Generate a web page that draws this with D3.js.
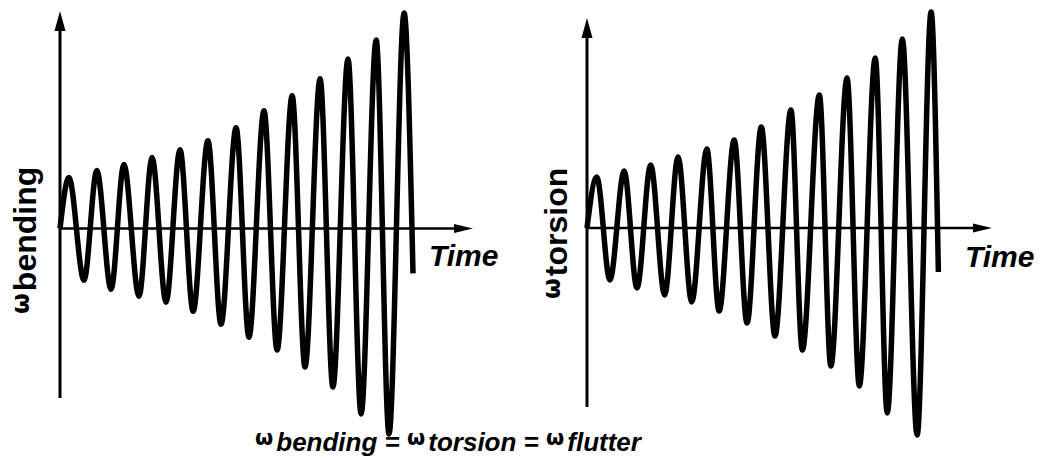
<!DOCTYPE html>
<html>
<head>
<meta charset="utf-8">
<script src="https://cdn.jsdelivr.net/npm/d3@7"></script>
<style>
  html, body { margin: 0; padding: 0; background: #fff; }
  svg { display: block; }
  text { font-family: "Liberation Sans", Arial, sans-serif; fill: #000; }
  .omega { font-family: "DejaVu Sans", sans-serif; font-style: normal; }
</style>
</head>
<body>
<svg id="chart" width="1048" height="458"></svg>
<script>
// ---- data (time in cycles, amplitude in arbitrary units) ----
const bendingTime = [0, 0.32, 0.86, 1.32, 1.83, 2.29, 2.83, 3.30, 3.80, 4.30, 4.77, 5.30, 5.77,
  6.31, 6.77, 7.31, 7.78, 8.32, 8.78, 9.32, 9.78, 10.32, 10.79, 11.33, 11.79, 12.33, 12.65];
const bendingValue = [0, 51, -52, 58, -61, 64, -68, 71, -74, 79, -83, 88, -96,
  101, -109, 118, -122, 133, -139, 150, -159, 170, -186, 189, -206, 216, -45];

const torsionTime = [0, 0.35, 0.82, 1.33, 1.79, 2.28, 2.78, 3.26, 3.75, 4.29, 4.73, 5.27, 5.73,
  6.24, 6.73, 7.30, 7.71, 8.32, 8.73, 9.31, 9.75, 10.32, 10.75, 11.29, 11.82, 12.32, 12.58];
const torsionValue = [0, 51, -52, 57, -60, 63, -67, 71, -74, 79, -83, 88, -95,
  101, -108, 118, -122, 133, -138, 150, -158, 170, -185, 189, -207, 216, -44];

const panels = [
  { name: "bending", time: bendingTime, value: bendingValue,
    xDomain: [0, 14.8], yDomain: [-170, 218] },
  { name: "torsion", time: torsionTime, value: torsionValue,
    xDomain: [0, 14.5], yDomain: [-179, 210] }
];
const axisLabel = "Time";
const omega = "\u03C9";
const formulaParts = ["bending", " = ", "torsion", " = ", "flutter"];

// ---- layout ----
const svg = d3.select("#chart");
const layout = [
  { x0: 60, xScaleWidth: 413, yTop: 11, yBottom: 398, labelX: 36, labelY: 314, timeX: 429, timeY: 266 },
  { x0: 587, xScaleWidth: 405, yTop: 18, yBottom: 407, labelX: 567, labelY: 299, timeX: 965, timeY: 267 }
];

panels.forEach((p, i) => {
  const L = layout[i];
  const x = d3.scaleLinear().domain(p.xDomain).range([L.x0, L.x0 + L.xScaleWidth]);
  const y = d3.scaleLinear().domain(p.yDomain).range([L.yBottom, L.yTop]);
  const g = svg.append("g");

  const x0 = x(0), y0 = y(0);
  const xEnd = x(p.xDomain[1]);
  const yTopPx = y(p.yDomain[1]), yBotPx = y(p.yDomain[0]);

  // vertical axis
  g.append("line").attr("x1", x0).attr("x2", x0).attr("y1", yBotPx).attr("y2", yTopPx + 12)
    .attr("stroke", "#000").attr("stroke-width", 3);
  g.append("path")
    .attr("d", `M${x0},${yTopPx} L${x0 - 5.5},${yTopPx + 20} L${x0 + 5.5},${yTopPx + 20} Z`)
    .attr("fill", "#000");

  // horizontal axis
  g.append("line").attr("x1", x0).attr("x2", xEnd - 10).attr("y1", y0).attr("y2", y0)
    .attr("stroke", "#000").attr("stroke-width", 2.5);
  g.append("path")
    .attr("d", `M${xEnd},${y0} L${xEnd - 19},${y0 - 4.5} L${xEnd - 19},${y0 + 4.5} Z`)
    .attr("fill", "#000");

  // oscillation curve
  const pts = p.time.map((t, k) => [t, p.value[k]]);
  const line = d3.line().x(d => x(d[0])).y(d => y(d[1])).curve(d3.curveMonotoneX);
  g.append("path").attr("d", line(pts))
    .attr("fill", "none").attr("stroke", "#000").attr("stroke-width", 5.5)
    .attr("stroke-linejoin", "round");

  // Time label
  g.append("text").attr("x", L.timeX).attr("y", L.timeY)
    .attr("font-size", 30).attr("font-weight", "bold").attr("font-style", "italic")
    .text(axisLabel);

  // y label (rotated)
  const t = g.append("text")
    .attr("transform", `translate(${L.labelX},${L.labelY}) rotate(-90)`)
    .attr("font-weight", "bold");
  t.append("tspan").attr("class", "omega").attr("font-size", 24).attr("dy", -7).text(omega);
  t.append("tspan").attr("font-size", 32).attr("dy", 7).attr("dx", 2).text(p.name);
});

// bottom formula
const f = svg.append("text").attr("x", 255).attr("y", 451)
  .attr("font-weight", "bold").attr("font-style", "italic");
formulaParts.forEach((part, k) => {
  if (k % 2 === 0) {
    f.append("tspan").attr("class", "omega").attr("font-size", 21).attr("dy", -6).text(omega);
    f.append("tspan").attr("font-size", 26).attr("dy", 6).attr("dx", 3).text(part);
  } else {
    f.append("tspan").attr("font-size", 26).text(part);
  }
});
</script>
</body>
</html>
